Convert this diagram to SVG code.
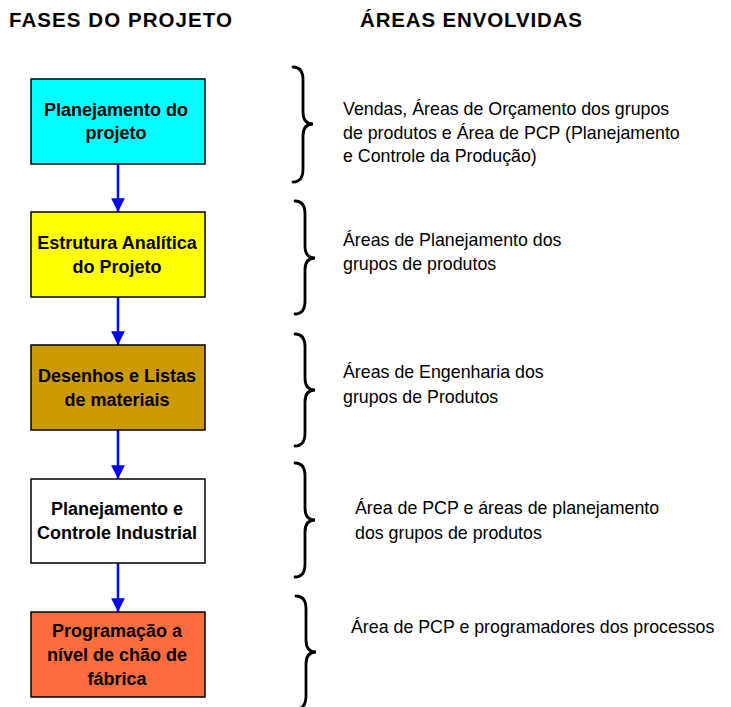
<svg xmlns="http://www.w3.org/2000/svg" width="731" height="707" viewBox="0 0 731 707">
<defs>
<style>
.hdr{font-family:"Liberation Sans",Arial,sans-serif;font-weight:bold;font-size:20.5px;fill:#000}
.bx{stroke:#000;stroke-width:1.5}
.bt{font-family:"Liberation Sans",Arial,sans-serif;font-weight:bold;font-size:18px;fill:#000;text-anchor:middle}
.rt{font-family:"Liberation Sans",Arial,sans-serif;font-size:17.8px;fill:#000}
.arr{stroke:#0000FF;stroke-width:2.5;fill:none}
.brace{stroke:#000;stroke-width:2.8;fill:none;stroke-linecap:round}
</style>
<marker id="ah" viewBox="0 0 10 10" refX="10" refY="5" markerWidth="6" markerHeight="5.5" markerUnits="strokeWidth" orient="auto">
<path d="M0,0 L10,5 L0,10 z" fill="#0000FF"/>
</marker>
</defs>
<rect width="731" height="707" fill="#fff"/>
<text class="hdr" x="9" y="27" textLength="223">FASES DO PROJETO</text>
<text class="hdr" x="360" y="27" textLength="222">ÁREAS ENVOLVIDAS</text>

<g id="connectors">
<line class="arr" x1="118" y1="164" x2="118" y2="212" marker-end="url(#ah)"/>
<line class="arr" x1="118" y1="297" x2="118" y2="345" marker-end="url(#ah)"/>
<line class="arr" x1="118" y1="430" x2="118" y2="479" marker-end="url(#ah)"/>
<line class="arr" x1="118" y1="563" x2="118" y2="612" marker-end="url(#ah)"/>
</g>

<g id="n1">
<rect class="bx" x="31" y="79" width="174" height="85" fill="#00FFFF"/>
<text class="bt" x="116" y="116">Planejamento do</text>
<text class="bt" x="116" y="139">projeto</text>
</g>
<g id="n2">
<rect class="bx" x="31" y="212" width="174" height="85" fill="#FFFF00"/>
<text class="bt" x="117" y="249">Estrutura Analítica</text>
<text class="bt" x="117" y="273">do Projeto</text>
</g>
<g id="n3">
<rect class="bx" x="31" y="345" width="174" height="85" fill="#CC9900"/>
<text class="bt" x="117" y="382">Desenhos e Listas</text>
<text class="bt" x="117" y="406">de materiais</text>
</g>
<g id="n4">
<rect class="bx" x="31" y="479" width="174" height="84" fill="#FFFFFF"/>
<text class="bt" x="117" y="515">Planejamento e</text>
<text class="bt" x="117" y="539">Controle Industrial</text>
</g>
<g id="n5">
<rect class="bx" x="31" y="612" width="174" height="85" fill="#FF6D3F"/>
<text class="bt" x="117" y="637">Programação a</text>
<text class="bt" x="117" y="661">nível de chão de</text>
<text class="bt" x="117" y="685">fábrica</text>
</g>

<g id="b1">
<path class="brace" d="M293,67 Q303,67 303,80 L303,112 Q303,124 313,124 Q303,124 303,136 L303,169 Q303,182 293,182"/>
<text class="rt" x="343" y="115">Vendas, Áreas de Orçamento dos grupos</text>
<text class="rt" x="343" y="138.5">de produtos e Área de PCP (Planejamento</text>
<text class="rt" x="343" y="162">e Controle da Produção)</text>
</g>
<g id="b2">
<path class="brace" d="M295,201 Q305,201 305,214 L305,246 Q305,258 315,258 Q305,258 305,270 L305,301 Q305,314 295,314"/>
<text class="rt" x="343" y="246">Áreas de Planejamento dos</text>
<text class="rt" x="343" y="270">grupos de produtos</text>
</g>
<g id="b3">
<path class="brace" d="M295,334 Q305,334 305,347 L305,378 Q305,390 315,390 Q305,390 305,402 L305,433 Q305,446 295,446"/>
<text class="rt" x="343" y="378">Áreas de Engenharia dos</text>
<text class="rt" x="343" y="403">grupos de Produtos</text>
</g>
<g id="b4">
<path class="brace" d="M295,463 Q305,463 305,476 L305,508 Q305,520 315,520 Q305,520 305,532 L305,564 Q305,577 295,577"/>
<text class="rt" x="355" y="514">Área de PCP e áreas de planejamento</text>
<text class="rt" x="355" y="539">dos grupos de produtos</text>
</g>
<g id="b5">
<path class="brace" d="M296,596 Q306,596 306,609 L306,640 Q306,652 316,652 Q306,652 306,664 L306,696 Q306,709 296,709"/>
<text class="rt" x="351" y="633">Área de PCP e programadores dos processos</text>
</g>
</svg>
